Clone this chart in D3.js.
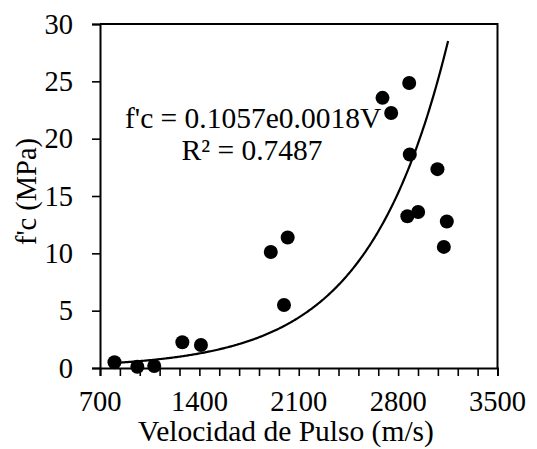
<!DOCTYPE html>
<html>
<head>
<meta charset="utf-8">
<script src="https://cdn.jsdelivr.net/npm/d3@7/dist/d3.min.js"></script>
<style>
  html, body { margin: 0; padding: 0; background: #fff; }
  svg { display: block; }
</style>
</head>
<body>
<svg id="chart" width="537" height="449"></svg>
<script>
// ---- data ----
const velocity = [802, 963, 1082, 1280, 1411, 1903, 2022, 1996, 2690, 2751, 2878, 2882, 2865, 2941, 3077, 3143, 3122];
const strength = [0.5, 0.11, 0.17, 2.24, 2.0, 10.12, 11.38, 5.49, 23.56, 22.24, 24.86, 18.62, 13.23, 13.6, 17.34, 12.77, 10.56];
const xTicks = [700, 1400, 2100, 2800, 3500];
const xMinorTicks = d3.range(700, 3501, 140);
const yTicks = [0, 5, 10, 15, 20, 25, 30];
// exponential trendline fc = a * e^(b V)
const trendA = 0.1057;
const trendB = 0.001776;
const trendRange = [800, 3152];
const equationText = "f'c = 0.1057e0.0018V";
const r2Text = "R\u00B2 = 0.7487";
const xTitle = "Velocidad de Pulso (m/s)";
const yTitle = "f'c (MPa)";

// ---- layout ----
const FONT = "'Liberation Serif', 'Times New Roman', Times, 'DejaVu Serif', serif";
const svg = d3.select("#chart").attr("font-family", FONT);
const L = 100, R = 497.5, T = 24, B = 368;
const x = d3.scaleLinear().domain([700, 3500]).range([L, R]);
const y = d3.scaleLinear().domain([0, 30]).range([B, T]);
const FS = 28.5;
const FS_BIG = 29.5;

// frame (top & right)
svg.append("path")
  .attr("d", `M${L},${T}H${R}V${B}`)
  .attr("fill", "none").attr("stroke", "#000").attr("stroke-width", 2);

// x axis
const gx = svg.append("g").attr("transform", `translate(0,${B})`)
  .call(d3.axisBottom(x).tickValues(xMinorTicks).tickSize(8).tickFormat(""));
gx.select(".domain").attr("stroke-width", 2);
gx.selectAll(".tick line").attr("stroke-width", 1.6);
svg.append("g").selectAll("text").data(xTicks).join("text")
  .attr("x", d => x(d)).attr("y", 411)
  .attr("text-anchor", "middle").attr("font-size", FS).attr("font-family", FONT)
  .text(d => d);

// y axis
const gy = svg.append("g").attr("transform", `translate(${L},0)`)
  .call(d3.axisLeft(y).tickValues(yTicks).tickSize(8).tickFormat(""));
gy.select(".domain").attr("stroke-width", 2);
gy.selectAll(".tick line").attr("stroke-width", 1.6);
svg.append("g").selectAll("text").data(yTicks).join("text")
  .attr("x", 73).attr("y", d => y(d)).attr("dy", "0.34em")
  .attr("text-anchor", "end").attr("font-size", FS).attr("font-family", FONT)
  .text(d => d);

// titles
svg.append("text").attr("x", 286).attr("y", 441)
  .attr("text-anchor", "middle").attr("font-size", FS_BIG).attr("font-family", FONT).text(xTitle);
svg.append("text").attr("transform", "translate(36,191.5) rotate(-90)")
  .attr("text-anchor", "middle").attr("font-size", FS).attr("font-family", FONT).text(yTitle);

// trendline
const vs = d3.range(trendRange[0], trendRange[1] + 1, 8);
const line = d3.line().x(v => x(v)).y(v => y(trendA * Math.exp(trendB * v)));
svg.append("path").datum(vs).attr("d", line)
  .attr("fill", "none").attr("stroke", "#000").attr("stroke-width", 2.2);

// points
svg.append("g").selectAll("circle").data(velocity).join("circle")
  .attr("cx", d => x(d)).attr("cy", (d, i) => y(strength[i])).attr("r", 7)
  .attr("fill", "#000");

// equation
svg.append("text").attr("x", 125).attr("y", 128).attr("font-size", FS_BIG).attr("font-family", FONT).text(equationText);
svg.append("text").attr("x", 181.5).attr("y", 160).attr("font-size", FS_BIG).attr("font-family", FONT).text(r2Text);
</script>
</body>
</html>
